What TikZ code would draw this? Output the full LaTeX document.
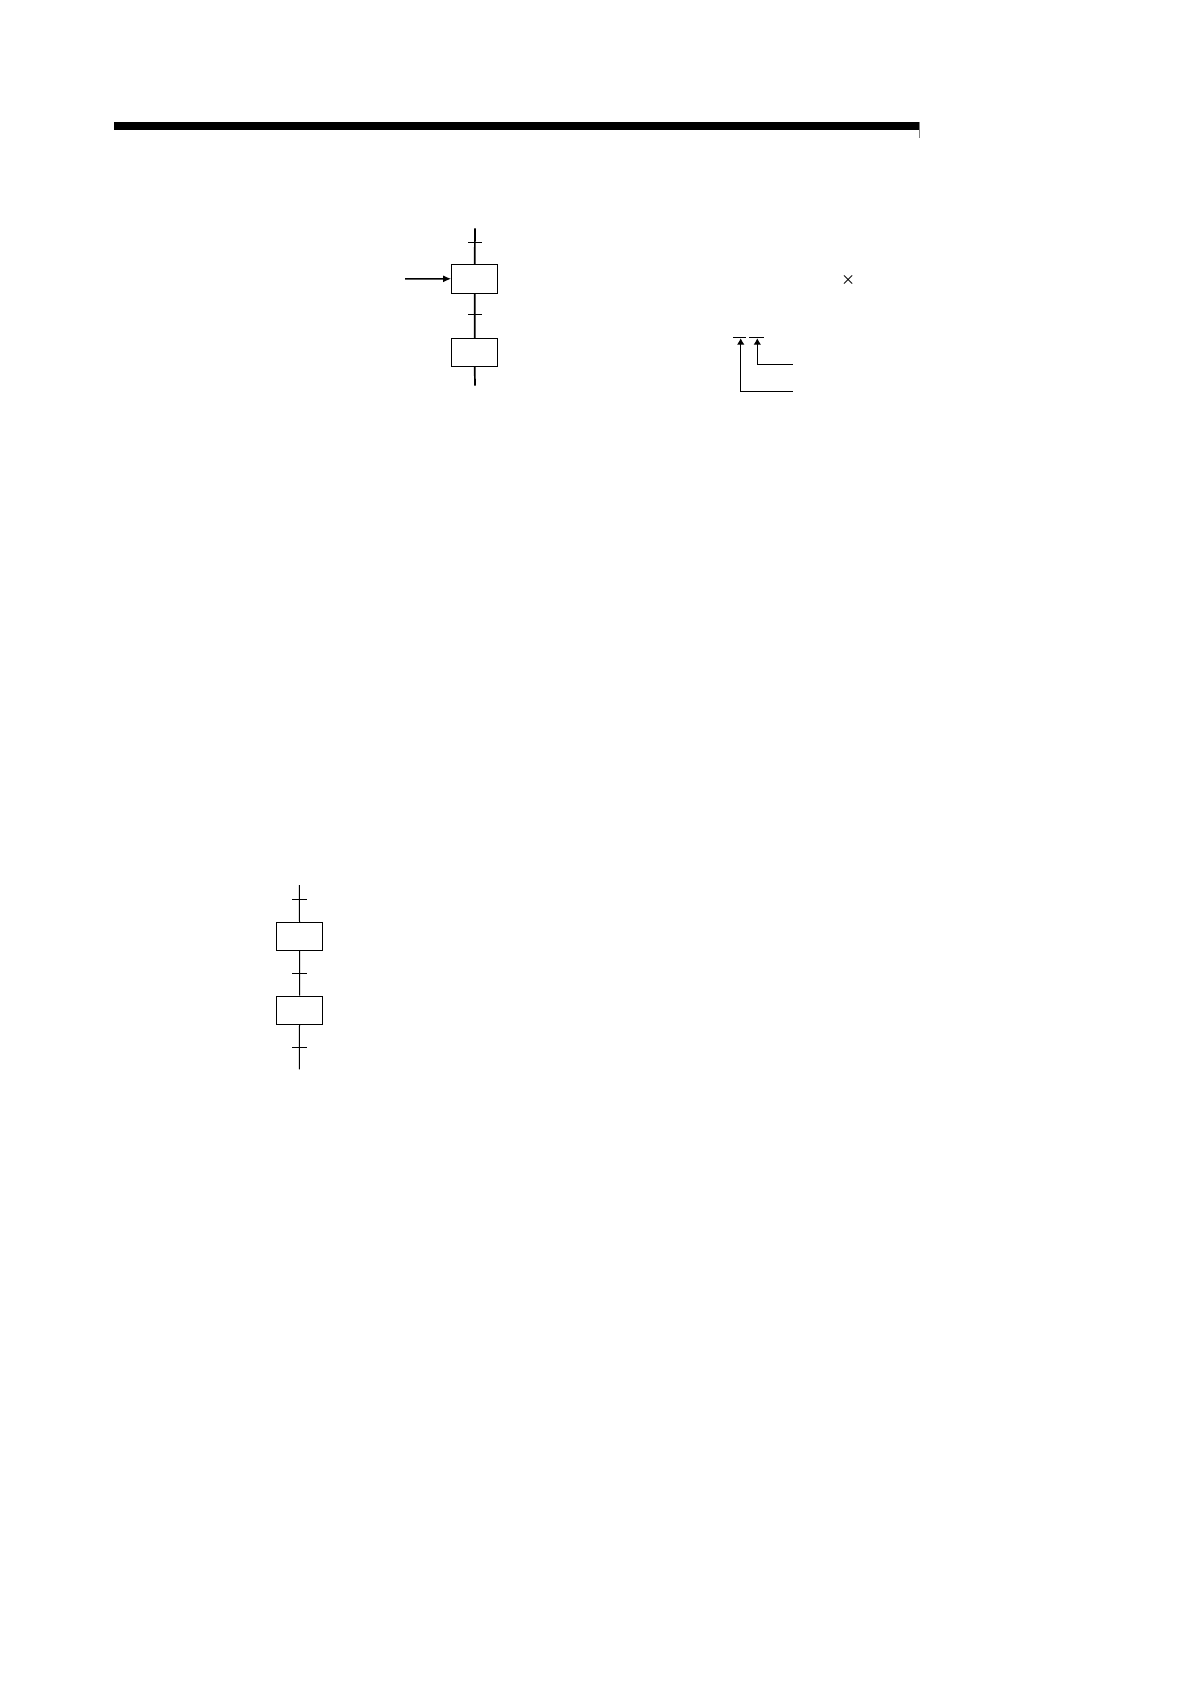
\documentclass[tikz,border=0pt]{standalone}
\usepackage{amsmath}
\usetikzlibrary{arrows.meta}
\tikzset{
  stepbox/.style={draw, line width=0.5pt, minimum width=23pt, minimum height=14.5pt, inner sep=0pt},
  trans/.style={line width=0.5pt},
  flow/.style={line width=0.85pt},
  pointer/.style={line width=0.75pt, -{Latex[length=4pt,width=3.5pt]}},
  refarrow/.style={line width=0.5pt, -{Latex[length=3.2pt,width=3.8pt]}}
}
\begin{document}
\begin{tikzpicture}[x=0.5pt,y=0.5pt,yscale=-1]
		\useasboundingbox (0,0) rectangle (1190,1684);
		
		%Header bar
		\fill (114,122) rectangle (919,130);
		\draw [line width=0.3pt, color=gray] (919,122) -- (919,138);
		
		%Top chart: steps
		\coordinate (t0) at (475,228.3);
		\node [stepbox] (s1) at (474.7,278.8) {};
		\node [stepbox, minimum height=14.2pt] (s2) at (474.7,352.5) {};
		\coordinate (t3) at (475,385.7);
		\draw [flow] (t0) -- (s1.north) (s1.south) -- (s2.north) (s2.south) -- (t3);
		%Transitions
		\foreach \y in {242.3,315} \draw [trans] (468.3,\y) -- (481.7,\y);
		%Active step arrow
		\coordinate (a0) at (405,279);
		\draw [pointer] (a0) -- (s1.west);
		
		% Text Node
		\node [inner sep=0pt, font=\scriptsize] (mul) at (848.3,280.5) {$\boldsymbol{\times}$};
		
		%Overlines and reference arrows
		\draw [trans] (733.3,337.3) -- (745.7,337.3) (749.3,337.3) -- (763.7,337.3);
		\coordinate (r1) at (792.7,391.3);
		\coordinate (u1) at (740.7,338.3);
		\coordinate (r2) at (792.7,364.3);
		\coordinate (u2) at (757.3,338.3);
		\draw [refarrow] (r1) -| (u1);
		\draw [refarrow] (r2) -| (u2);
		
		%Bottom chart
		\coordinate (b0) at (299.3,885);
		\node [stepbox, minimum width=22.8pt, minimum height=14.2pt] (c1) at (299.5,936.5) {};
		\node [stepbox, minimum width=22.8pt, minimum height=14.2pt] (c2) at (299.5,1010.2) {};
		\coordinate (b3) at (299.3,1069.3);
		\draw [trans] (b0) -- (c1.north) (c1.south) -- (c2.north) (c2.south) -- (b3);
		\foreach \y in {899.3,973.3,1047.3} \draw [trans] (292.3,\y) -- (306.7,\y);
\end{tikzpicture}
\end{document}
